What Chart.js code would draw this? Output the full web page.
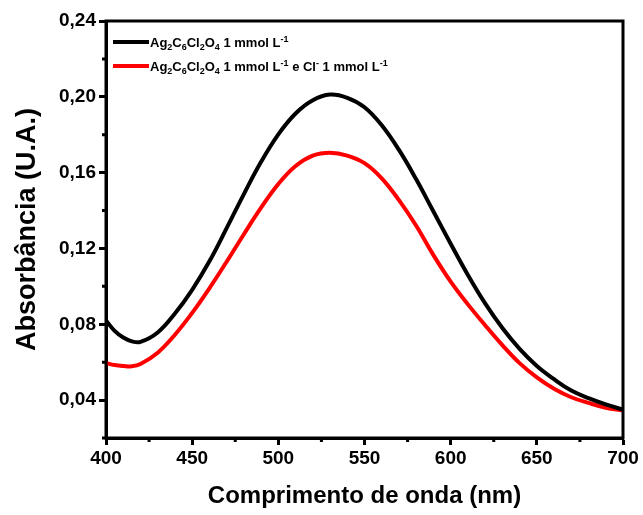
<!DOCTYPE html>
<html>
<head>
<meta charset="utf-8">
<script src="https://cdn.jsdelivr.net/npm/chart.js@4.4.1/dist/chart.umd.min.js"></script>
<style>
  html, body { margin: 0; padding: 0; background: #fff; }
  #wrap { width: 643px; height: 515px; position: relative; }
</style>
</head>
<body>
<div id="wrap"><canvas id="c" width="643" height="515"></canvas></div>
<script>
// ---- data ----
const wavelengths = [400,405,410,415,420,430,440,450,460,470,480,490,500,510,520,530,540,550,560,570,580,590,600,610,620,630,640,650,660,670,680,690,700];
const absAg = [0.082,0.0765,0.073,0.071,0.0707,0.0757,0.0857,0.0982,0.1132,0.1307,0.1487,0.1657,0.1802,0.1912,0.1982,0.2012,0.1995,0.1945,0.185,0.172,0.1565,0.1395,0.1225,0.106,0.091,0.078,0.067,0.058,0.051,0.045,0.041,0.0377,0.035];
const absAgCl = [0.0595,0.0585,0.058,0.0578,0.059,0.065,0.0745,0.086,0.099,0.113,0.1275,0.1415,0.154,0.1635,0.169,0.1705,0.169,0.165,0.157,0.1455,0.132,0.1165,0.1025,0.0905,0.0795,0.069,0.0595,0.052,0.046,0.0415,0.0385,0.036,0.0345];
const xTicks = [400,450,500,550,600,650,700];
const xMinorTicks = [425,475,525,575,625,675];
const yTicks = [0.04,0.08,0.12,0.16,0.20,0.24];
const yTickLabels = ['0,04','0,08','0,12','0,16','0,20','0,24'];
const yMinorTicks = [0.02,0.06,0.10,0.14,0.18,0.22];
// legend text pieces: [text, mode] mode 0 normal, 1 subscript, 2 superscript
const legend1 = [['Ag',0],['2',1],['C',0],['6',1],['Cl',0],['2',1],['O',0],['4',1],[' 1 mmol L',0],['-1',2]];
const legend2 = [['Ag',0],['2',1],['C',0],['6',1],['Cl',0],['2',1],['O',0],['4',1],[' 1 mmol L',0],['-1',2],[' e Cl',0],['-',2],[' 1 mmol L',0],['-1',2]];

const FONT = "'Liberation Sans', Arial, sans-serif";
const BLACK = '#000000';
const RED = '#ff0000';

const frame = {
  id: 'frame',
  afterDatasetsDraw(chart) {
    const {ctx, chartArea: a, scales} = chart;
    ctx.save();
    ctx.strokeStyle = '#000';
    ctx.lineWidth = 3;
    ctx.strokeRect(a.left, a.top, a.right - a.left, a.bottom - a.top);
    // minor ticks
    ctx.lineWidth = 3;
    ctx.beginPath();
    xMinorTicks.forEach(v => {
      const x = scales.x.getPixelForValue(v);
      ctx.moveTo(x, a.bottom); ctx.lineTo(x, a.bottom + 4);
    });
    yMinorTicks.forEach(v => {
      const y = scales.y.getPixelForValue(v);
      ctx.moveTo(a.left, y); ctx.lineTo(a.left - 4, y);
    });
    ctx.stroke();
    // legend
    const rows = [[legend1, BLACK, 42], [legend2, RED, 66]];
    rows.forEach(([parts, col, y]) => {
      ctx.strokeStyle = col;
      ctx.lineWidth = 4;
      ctx.beginPath();
      ctx.moveTo(a.left + 7, y); ctx.lineTo(a.left + 43, y);
      ctx.stroke();
      let x = a.left + 44;
      ctx.fillStyle = '#000';
      ctx.textBaseline = 'alphabetic';
      ctx.textAlign = 'left';
      parts.forEach(([t, m]) => {
        ctx.font = (m === 0 ? 'bold 13px ' : 'bold 9px ') + FONT;
        const dy = m === 1 ? 3 : (m === 2 ? -5 : 0);
        ctx.fillText(t, x, y + 5 + dy);
        x += ctx.measureText(t).width;
      });
    });
    ctx.restore();
  }
};

new Chart(document.getElementById('c'), {
  type: 'line',
  data: {
    datasets: [
      { label: 'Ag2C6Cl2O4 1 mmol L-1', data: wavelengths.map((w, i) => ({x: w, y: absAg[i]})),
        borderColor: BLACK, backgroundColor: BLACK, borderWidth: 4, pointRadius: 0, tension: 0.4 },
      { label: 'Ag2C6Cl2O4 1 mmol L-1 e Cl- 1 mmol L-1', data: wavelengths.map((w, i) => ({x: w, y: absAgCl[i]})),
        borderColor: RED, backgroundColor: RED, borderWidth: 4, pointRadius: 0, tension: 0.4 }
    ]
  },
  options: {
    responsive: false,
    animation: false,
    layout: { padding: { left: 0, right: 20, top: 21, bottom: 0 } },
    plugins: { legend: { display: false }, tooltip: { enabled: false } },
    scales: {
      x: {
        type: 'linear', min: 400, max: 700,
        afterBuildTicks: s => { s.ticks = xTicks.map(v => ({value: v})); },
        afterFit: s => { s.height = 77; },
        grid: { drawOnChartArea: false, color: '#000', tickLength: 7, tickWidth: 3 },
        border: { display: true, color: '#000', width: 3 },
        ticks: { color: '#000', font: { family: FONT, size: 19, weight: 'bold' }, padding: 2, maxRotation: 0 },
        title: { display: true, text: 'Comprimento de onda (nm)', color: '#000',
                 font: { family: FONT, size: 24, weight: 'bold' }, padding: { top: 0, bottom: 4 } }
      },
      y: {
        type: 'linear', min: 0.02, max: 0.24,
        afterBuildTicks: s => { s.ticks = yTicks.map(v => ({value: v})); },
        afterFit: s => { s.width = 106; },
        grid: { drawOnChartArea: false, color: '#000', tickLength: 7, tickWidth: 3 },
        border: { display: true, color: '#000', width: 3 },
        ticks: { color: '#000', font: { family: FONT, size: 19, weight: 'bold' }, padding: 3,
                 callback: (v) => { const i = yTicks.findIndex(t => Math.abs(t - v) < 1e-9); return i >= 0 ? yTickLabels[i] : ''; } },
        title: { display: true, text: 'Absorbância (U.A.)', color: '#000',
                 font: { family: FONT, size: 27, weight: 'bold' }, padding: { top: 11, bottom: 0 } }
      }
    }
  },
  plugins: [frame]
});
</script>
</body>
</html>
